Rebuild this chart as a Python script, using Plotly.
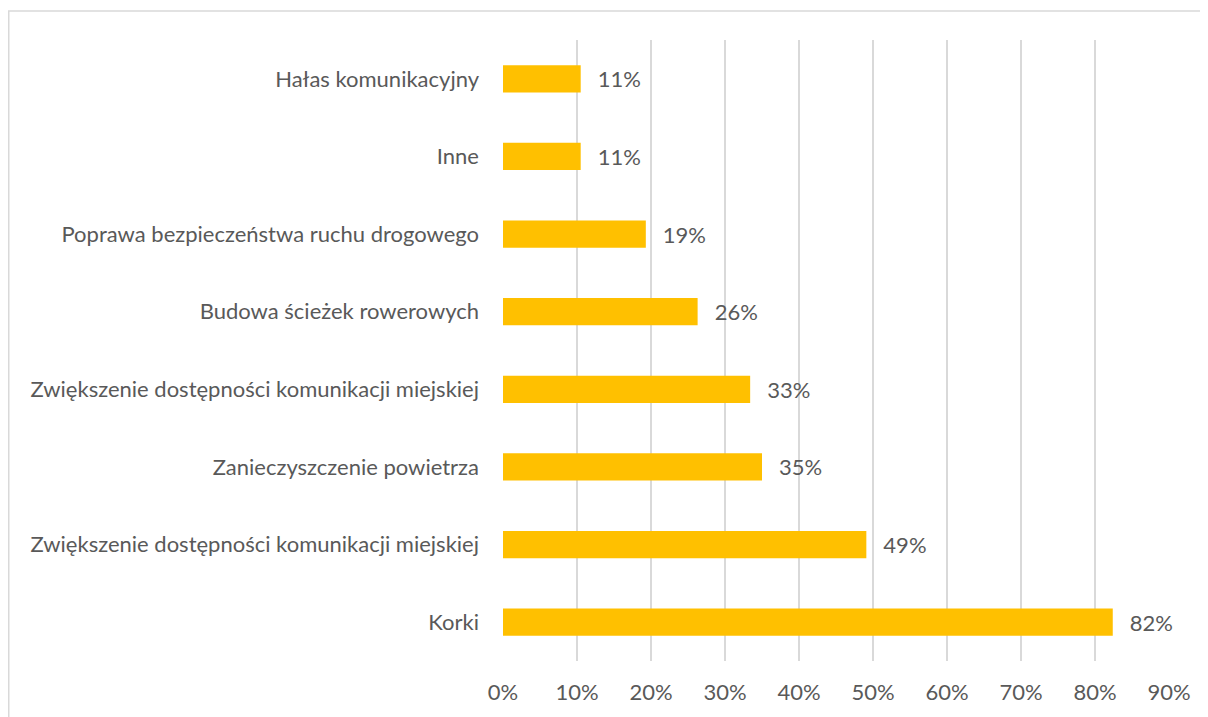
import plotly.graph_objects as go

# kategorie od góry do dołu
CATEGORIES = [
    "Hałas komunikacyjny",
    "Inne",
    "Poprawa bezpieczeństwa ruchu drogowego",
    "Budowa ścieżek rowerowych",
    "Zwiększenie dostępności komunikacji miejskiej",
    "Zanieczyszczenie powietrza",
    "Zwiększenie dostępności komunikacji miejskiej",
    "Korki",
]
VALUES = [0.105, 0.105, 0.193, 0.263, 0.334, 0.35, 0.491, 0.824]
TICK_VALS = [0, 0.1, 0.2, 0.3, 0.4, 0.5, 0.6, 0.7, 0.8, 0.9]

FONT = "Lato, 'Open Sans', sans-serif"
GREY = "#595959"
FS = 22

# duplikaty nazw -> pozycje liczbowe + ticktext
ypos = list(range(len(CATEGORIES)))

fig = go.Figure(go.Bar(
    x=VALUES, y=ypos, orientation="h",
    marker=dict(color="#FFC000", line=dict(width=0)),
    texttemplate="\u00a0\u00a0\u2009%{x:.0%}",
    textposition="outside", cliponaxis=False,
    textfont=dict(size=FS, color=GREY, family=FONT),
    hovertemplate="%{x:.0%}<extra></extra>",
))

fig.update_xaxes(
    range=[0, 0.9], tickvals=TICK_VALS, tickformat=".0%",
    showgrid=True, gridcolor="#d9d9d9", gridwidth=1.5,
    zeroline=False, showline=False, ticks="",
    tickfont=dict(size=FS, color=GREY, family=FONT),
    ticklabelstandoff=16,
)
fig.update_yaxes(
    tickvals=ypos, ticktext=CATEGORIES, autorange="reversed",
    showgrid=False, zeroline=False, showline=False, ticks="",
    tickfont=dict(size=FS, color=GREY, family=FONT),
    ticklabelstandoff=23,
)

# ramka wykresu
fig.add_shape(type="rect", xref="paper", yref="paper",
              x0=-0.7421, x1=1.2, y0=-0.3, y1=1.0467,
              line=dict(color="#d9d9d9", width=1.5), layer="below")

# strona ma 8px marginesu body -> wszystko przesunięte o 8px
fig.update_layout(
    width=1200, height=709,
    margin=dict(l=495, r=39, t=32, b=56),
    bargap=0.65,
    paper_bgcolor="white", plot_bgcolor="white",
    showlegend=False,
    font=dict(family=FONT, color=GREY),
)

fig.write_html("out.html")
